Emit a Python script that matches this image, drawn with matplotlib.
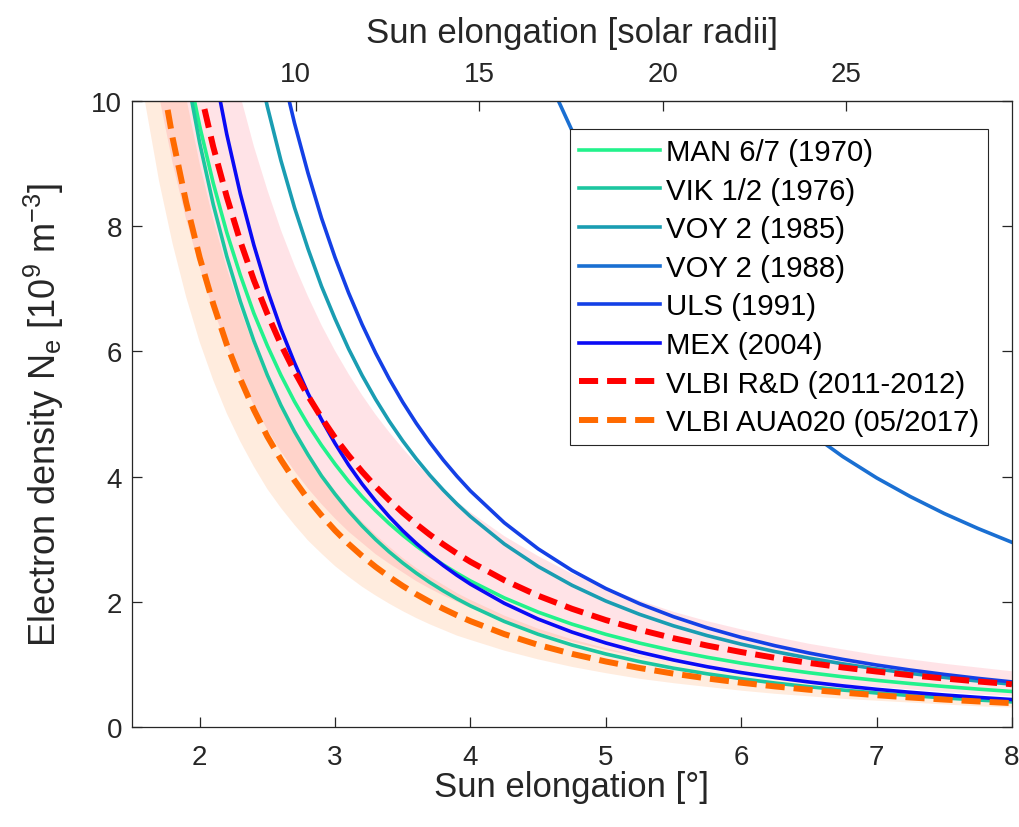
import numpy as np
import matplotlib
matplotlib.use("Agg")
import matplotlib.pyplot as plt

plt.rcParams["font.family"] = ["Liberation Sans", "DejaVu Sans"]
plt.rcParams["mathtext.default"] = "regular"

nan = np.nan

# ── Data: electron density [1e9 m^-3] at these elongations [deg]
elong = [1.5, 1.6, 1.7, 1.8, 1.9, 2.0, 2.1, 2.2, 2.3, 2.4, 2.5, 2.6, 2.7, 2.8, 2.9,
         3.0, 3.1, 3.2, 3.3, 3.4, 3.5, 3.6, 3.7, 3.8, 3.9, 4.0,
         4.25, 4.5, 4.75, 5.0, 5.25, 5.5, 5.75, 6.0, 6.25, 6.5, 6.75, 7.0, 7.25, 7.5, 7.75, 8.0]

man_1970 = [nan, nan, nan, 11.90, 10.65, 9.60, 8.69, 7.90, 7.22, 6.61, 6.09, 5.62, 5.20, 4.83, 4.50,
            4.20, 3.924, 3.678, 3.455, 3.250, 3.064, 2.893, 2.735, 2.591, 2.457, 2.333,
            2.062, 1.835, 1.643, 1.480, 1.340, 1.218, 1.113, 1.020, 0.939, 0.867, 0.802, 0.745,
            0.694, 0.647, 0.605, 0.567]
vik_1976 = [nan, nan, nan, 11.85, 10.48, 9.33, 8.35, 7.52, 6.80, 6.17, 5.62, 5.14, 4.72, 4.35, 4.01,
            3.72, 3.451, 3.211, 2.994, 2.798, 2.620, 2.458, 2.309, 2.174, 2.049, 1.935,
            1.686, 1.481, 1.310, 1.166, 1.044, 0.939, 0.849, 0.771, 0.702, 0.643, 0.590, 0.543,
            0.502, 0.464, 0.431, 0.401]
voy_1985 = [nan, nan, nan, nan, nan, nan, nan, nan, nan, 10.88, 9.91, 9.05, 8.30, 7.64, 7.04,
            6.52, 6.041, 5.616, 5.233, 4.885, 4.570, 4.284, 4.022, 3.783, 3.563, 3.362,
            2.924, 2.564, 2.264, 2.012, 1.799, 1.616, 1.459, 1.323, 1.204, 1.101, 1.009, 0.928,
            0.856, 0.792, 0.734, 0.683]
uls_1991 = [nan, nan, nan, nan, nan, nan, nan, nan, nan, nan, nan, 10.56, 9.65, 8.85, 8.13,
            7.50, 6.936, 6.429, 5.973, 5.562, 5.189, 4.851, 4.544, 4.263, 4.007, 3.771,
            3.263, 2.846, 2.501, 2.212, 1.969, 1.762, 1.584, 1.431, 1.298, 1.182, 1.080, 0.990,
            0.910, 0.840, 0.776, 0.720]
mex_2004 = [nan, nan, nan, nan, 13.42, 11.88, 10.58, 9.47, 8.52, 7.70, 6.98, 6.36, 5.82, 5.33, 4.91,
            4.53, 4.186, 3.881, 3.608, 3.360, 3.136, 2.933, 2.748, 2.579, 2.424, 2.282,
            1.976, 1.724, 1.516, 1.342, 1.195, 1.070, 0.962, 0.869, 0.789, 0.719, 0.657, 0.602,
            0.554, 0.511, 0.473, 0.438]
vlbi_rd = [nan, 15.75, 14.00, 12.52, 11.27, 10.20, 9.27, 8.47, 7.76, 7.14, 6.60, 6.11, 5.68, 5.29, 4.94,
           4.62, 4.338, 4.078, 3.840, 3.623, 3.424, 3.241, 3.072, 2.916, 2.772, 2.639,
           2.345, 2.097, 1.888, 1.708, 1.553, 1.418, 1.300, 1.197, 1.105, 1.024, 0.951, 0.886,
           0.827, 0.775, 0.727, 0.683]
vlbi_aua = [13.93, 12.12, 10.64, 9.41, 8.38, 7.50, 6.76, 6.11, 5.56, 5.07, 4.64, 4.27, 3.94, 3.64, 3.38,
            3.14, 2.924, 2.731, 2.557, 2.398, 2.253, 2.120, 1.999, 1.888, 1.785, 1.691,
            1.484, 1.312, 1.168, 1.046, 0.942, 0.852, 0.775, 0.707, 0.648, 0.595, 0.549, 0.508,
            0.471, 0.438, 0.408, 0.381]

# uncertainty bands of the two VLBI solutions
rd_upper = [nan, 20.5, 18.2, 16.3, 14.65, 13.26, 12.05, 11.01, 10.09, 9.28, 8.58, 7.94, 7.38, 6.88, 6.42,
            6.01, 5.64, 5.30, 4.99, 4.71, 4.45, 4.21, 3.99, 3.79, 3.60, 3.43,
            3.05, 2.73, 2.45, 2.22, 2.02, 1.84, 1.69, 1.56, 1.44, 1.33, 1.24, 1.15,
            1.08, 1.01, 0.95, 0.89]
rd_lower = [nan, 11.34, 10.08, 9.01, 8.11, 7.34, 6.67, 6.10, 5.59, 5.14, 4.75, 4.40, 4.09, 3.81, 3.56,
            3.33, 3.12, 2.94, 2.76, 2.61, 2.47, 2.33, 2.21, 2.10, 2.00, 1.90,
            1.69, 1.51, 1.36, 1.23, 1.12, 1.02, 0.94, 0.86, 0.80, 0.74, 0.68, 0.64,
            0.60, 0.56, 0.52, 0.49]
aua_upper = [16.7, 14.5, 12.8, 11.3, 10.06, 9.00, 8.11, 7.33, 6.67, 6.08, 5.57, 5.12, 4.73, 4.37, 4.06,
             3.77, 3.51, 3.28, 3.07, 2.88, 2.70, 2.54, 2.40, 2.27, 2.14, 2.03,
             1.78, 1.57, 1.40, 1.26, 1.13, 1.02, 0.93, 0.85, 0.78, 0.71, 0.66, 0.61,
             0.57, 0.53, 0.49, 0.46]
aua_lower = [11.42, 9.94, 8.72, 7.72, 6.87, 6.15, 5.54, 5.01, 4.56, 4.16, 3.80, 3.50, 3.23, 2.98, 2.77,
             2.57, 2.40, 2.24, 2.10, 1.97, 1.85, 1.74, 1.64, 1.55, 1.46, 1.39,
             1.22, 1.08, 0.96, 0.86, 0.77, 0.70, 0.64, 0.58, 0.53, 0.49, 0.45, 0.42,
             0.39, 0.36, 0.33, 0.31]

# VOY 2 (1988) only enters the plot range beyond ~4.6 deg
elong_voy88 = [4.5, 4.625, 4.75, 4.875, 5.0, 5.25, 5.5, 5.75, 6.0, 6.25, 6.5, 6.75, 7.0, 7.25, 7.5, 7.75, 8.0]
voy_1988 = [10.77, 10.12, 9.53, 8.99, 8.49, 7.61, 6.86, 6.20, 5.64, 5.14, 4.71, 4.32, 3.98, 3.68, 3.41, 3.17, 2.95]

labels = ["MAN 6/7 (1970)", "VIK 1/2 (1976)", "VOY 2 (1985)", "VOY 2 (1988)",
          "ULS (1991)", "MEX (2004)", "VLBI R&D (2011-2012)", "VLBI AUA020 (05/2017)"]
deg_to_rsun = 3.69  # solar radii per degree of elongation (top axis)

# ── Plot
fig = plt.figure(figsize=(10.2, 8.28), dpi=100)
ax = fig.add_axes([0.1294, 0.1208, 0.8627, 0.756])

ax.fill_between(elong, aua_lower, aua_upper, color="#ff7a1a", alpha=0.14, linewidth=0)
ax.fill_between(elong, rd_lower, rd_upper, color="#ff2040", alpha=0.12, linewidth=0)

lw = 2.6
dash = (0, (3.2, 1.5))
ax.plot(elong, man_1970, color="#22f28c", lw=lw, label=labels[0])
ax.plot(elong, vik_1976, color="#1cc6a0", lw=lw, label=labels[1])
ax.plot(elong, voy_1985, color="#1a9db2", lw=lw, label=labels[2])
ax.plot(elong_voy88, voy_1988, color="#1a6fd2", lw=lw, label=labels[3])
ax.plot(elong, uls_1991, color="#1440e6", lw=lw, label=labels[4])
ax.plot(elong, mex_2004, color="#0a0af5", lw=lw, label=labels[5])
ax.plot(elong, vlbi_rd, color="#ff0000", lw=4.3, ls=dash, label=labels[6])
ax.plot(elong, vlbi_aua, color="#ff6a00", lw=4.3, ls=dash, label=labels[7])

ax.set_xlim(1.5, 8)
ax.set_ylim(0, 10)
ax.set_xticks([2, 3, 4, 5, 6, 7, 8])
ax.set_yticks([0, 2, 4, 6, 8, 10])

axis_col = "#262626"
for s in ax.spines.values():
    s.set_color(axis_col)
    s.set_linewidth(0.9)
ax.tick_params(direction="in", length=7, width=0.9, colors=axis_col, labelsize=20, right=True)
ax.tick_params(axis="x", pad=12)
ax.tick_params(axis="y", pad=7)

ax.set_xlabel("Sun elongation [°]", fontsize=25, color=axis_col, labelpad=0)
ax.set_ylabel("Electron density N$_e$ [10$^9$ m$^{-3}$]", fontsize=26, color=axis_col, labelpad=18)

top = ax.secondary_xaxis("top", functions=(lambda d: d * deg_to_rsun, lambda r: r / deg_to_rsun))
top.set_xticks([10, 15, 20, 25])
top.tick_params(direction="in", length=7, width=0.9, colors=axis_col, labelsize=20, pad=10)
top.set_xlabel("Sun elongation [solar radii]", fontsize=25, color=axis_col, labelpad=14)

leg = ax.legend(loc="upper right", bbox_to_anchor=(0.9727, 0.955), borderaxespad=0,
                fontsize=21.2, handlelength=2.75, handletextpad=0.2, labelspacing=0.36,
                borderpad=0.3, fancybox=False, framealpha=1)
leg.get_frame().set_edgecolor("#262626")
leg.get_frame().set_linewidth(0.8)

fig.savefig("out.png", dpi=100)
